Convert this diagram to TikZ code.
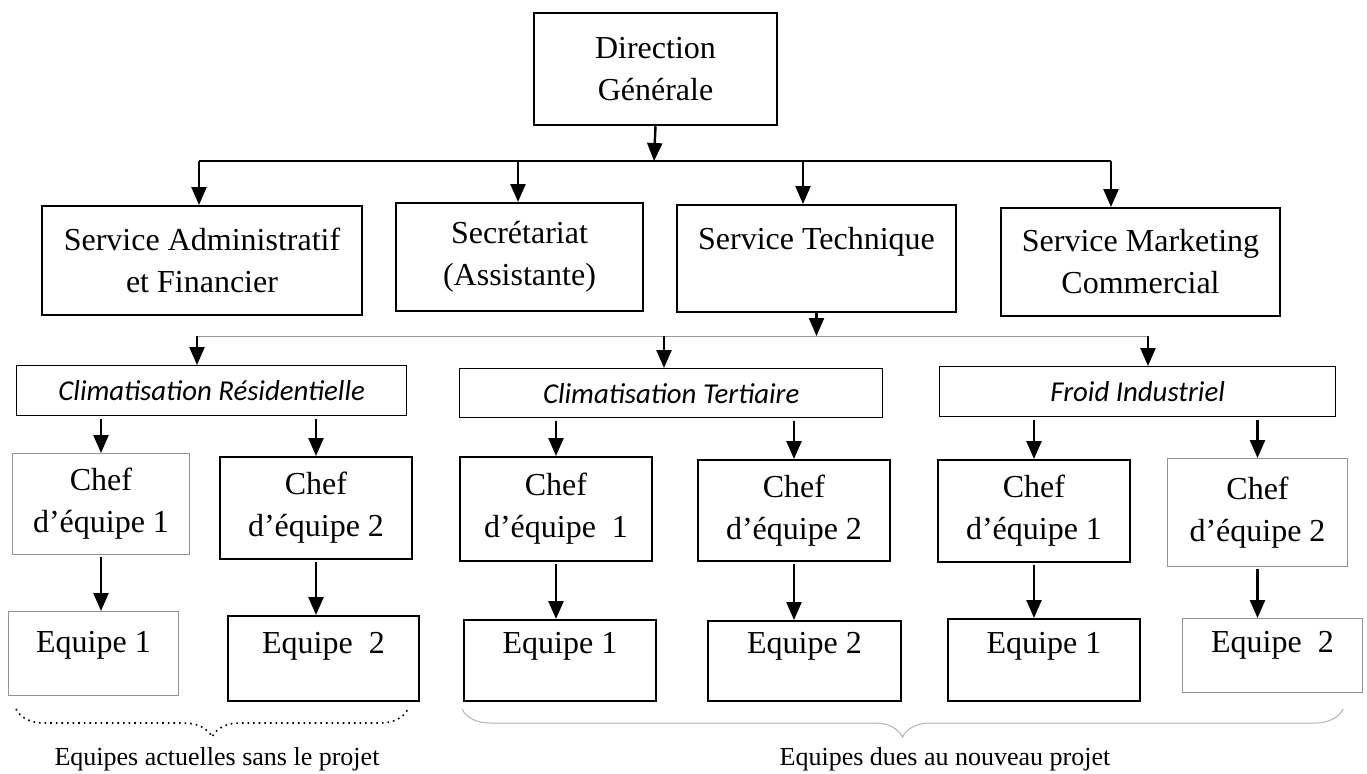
\documentclass[tikz,border=0pt]{standalone}
\usepackage{fontspec}
\setmainfont{Liberation Serif}
\newfontfamily\calibri{Carlito}
\usepackage{tikz}
\usetikzlibrary{arrows.meta, decorations.pathreplacing}

\tikzset{
    cadre/.style={draw, line width=1pt, anchor=north west, inner sep=0pt, font=\fontsize{16}{21}\selectfont},
    boite/.style={cadre, align=center},
    grise/.style={draw=gray!85, line width=0.5pt},
    pole/.style={boite, line width=0.7pt, font=\calibri\itshape\fontsize{14.4}{17}\selectfont},
    fleche/.style={-{Triangle[width=7.5pt,length=9pt]}, line width=1.2pt},
    legende/.style={font=\fontsize{13}{15}\selectfont}
}

\begin{document}
\begin{tikzpicture}[x=0.5pt, y=-0.5pt]
    \useasboundingbox (0,0) rectangle (1367,773);

    % Direction
    \node[boite, minimum width=121.5pt, minimum height=56pt] (dg) at (533,12) {Direction\\Générale};

    % Services
    \node[boite, minimum width=160pt, minimum height=54.5pt] (saf) at (41,205) {Service Administratif\\et Financier};
    \node[boite, minimum width=123.5pt, minimum height=54pt] (sec) at (395,202) {Secrétariat\\(Assistante)};
    \node[cadre, minimum width=139.5pt, text height=22pt, text depth=31.5pt] (st) at (676,204) {Service Technique};
    \node[boite, minimum width=139.5pt, minimum height=54pt] (smc) at (1000,207) {Service Marketing\\Commercial};

    % Poles du service technique
    \node[pole, minimum width=195pt, minimum height=25pt] (cr) at (16,365) {Climatisation Résidentielle};
    \node[pole, minimum width=211.5pt, minimum height=24.5pt] (ct) at (459,368) {Climatisation Tertiaire};
    \node[pole, minimum width=198pt, minimum height=25pt] (fi) at (939,366) {Froid Industriel};

    % Chefs d'equipe
    \node[boite, grise, minimum width=88.5pt, minimum height=50.5pt] (c1r) at (12,453) {Chef\\d’équipe 1};
    \node[boite, minimum width=96pt, minimum height=51pt] (c2r) at (219,456) {Chef\\d’équipe 2};
    \node[boite, minimum width=96pt, minimum height=52pt] (c1t) at (459,456) {Chef\\d’équipe\ \ 1};
    \node[boite, minimum width=96pt, minimum height=50.5pt] (c2t) at (697,459) {Chef\\d’équipe 2};
    \node[boite, minimum width=96pt, minimum height=51pt] (c1f) at (937,459) {Chef\\d’équipe 1};
    \node[boite, grise, minimum width=90pt, minimum height=54pt] (c2f) at (1167,458) {Chef\\d’équipe 2};

    % Equipes
    \node[cadre, grise, minimum width=85pt, text height=20.5pt, text depth=21.5pt] (e1r) at (8,611) {Equipe 1};
    \node[cadre, minimum width=95.5pt, text height=18.5pt, text depth=24pt] (e2r) at (227,615) {Equipe\ \ 2};
    \node[cadre, minimum width=96pt, text height=16.5pt, text depth=24pt] (e1t) at (463,619) {Equipe 1};
    \node[cadre, minimum width=96.5pt, text height=16pt, text depth=24pt] (e2t) at (707,620) {Equipe 2};
    \node[cadre, minimum width=96pt, text height=17pt, text depth=24pt] (e1f) at (947,618) {Equipe 1};
    \node[cadre, grise, minimum width=90pt, text height=17pt, text depth=20pt] (e2f) at (1182,618) {Equipe\ \ 2};

    % Liaisons direction -> services
    \coordinate (bus) at (654,161);
    \coordinate (b1) at (199,161);
    \coordinate (b2) at (518,161);
    \coordinate (b3) at (803,161);
    \coordinate (b4) at (1111,161);
    \draw[fleche] (dg.south) -- (bus);
    \draw[line width=0.8pt] (b1) -- (b4);
    \draw[fleche] (b1) -- (b1 |- saf.north);
    \draw[fleche] (b2) -- (b2 |- sec.north);
    \draw[fleche] (b3) -- (b3 |- st.north);
    \draw[fleche] (b4) -- (b4 |- smc.north);

    % Liaisons service technique -> poles
    \coordinate (p1) at (197,336);
    \coordinate (p2) at (664,336);
    \coordinate (p3) at (1148,336);
    \draw[fleche] (st.south) -- (st.south |- p1);
    \draw[gray!80, line width=0.5pt] (p1) -- (p3);
    \draw[fleche] (p1) -- (p1 |- cr.north);
    \draw[fleche] (p2) -- (p2 |- ct.north);
    \draw[fleche] (p3) -- (p3 |- fi.north);

    % Poles -> chefs -> equipes
    \foreach \p/\a/\b in {cr/c1r/c2r, ct/c1t/c2t, fi/c1f/c2f}{
        \draw[fleche, shorten <=1.5pt] (\p.south -| \a.north) -- (\a.north);
        \draw[fleche, shorten <=1.5pt] (\p.south -| \b.north) -- (\b.north);
    }
    \foreach \c/\e in {c1r/e1r, c2r/e2r, c1t/e1t, c2t/e2t, c1f/e1f, c2f/e2f}
        \draw[fleche, shorten <=1pt] (\c.south) -- (\c.south |- \e.north);

    % Accolades
    \draw[decorate, decoration={brace, mirror, amplitude=14pt}, dotted, line width=0.8pt] (16,709) -- (408,709);
    \draw[decorate, decoration={brace, mirror, amplitude=14pt}, gray!60, line width=0.5pt] (462,709) -- (1343,709);
    \node[legende] (actu) at (217,759) {Equipes actuelles sans le projet};
    \node[legende] (nouv) at (945,759) {Equipes dues au nouveau projet};
\end{tikzpicture}
\end{document}
